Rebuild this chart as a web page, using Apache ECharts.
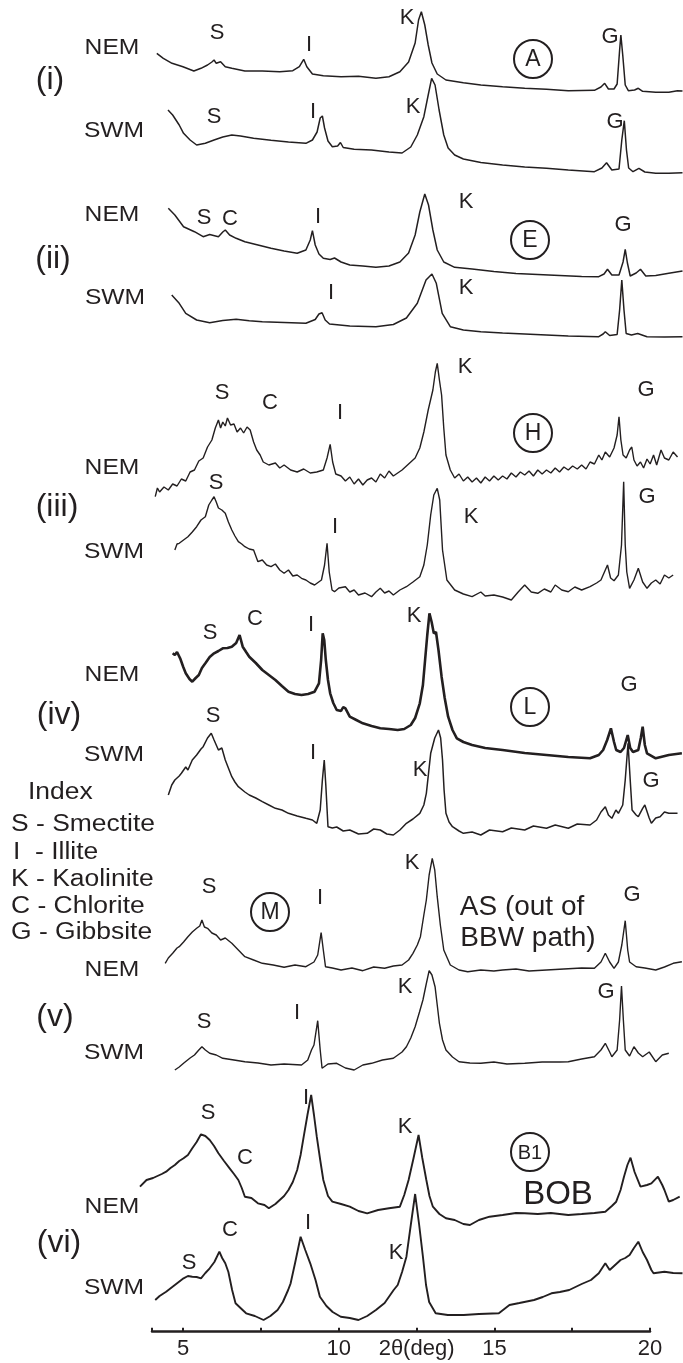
<!DOCTYPE html>
<html>
<head>
<meta charset="utf-8">
<script src="https://cdn.jsdelivr.net/npm/echarts@6/dist/echarts.min.js"></script>
<style>
html, body { margin: 0; padding: 0; background: #fff; }
#chart { width: 683px; height: 1363px; }
</style>
</head>
<body>
<div id="chart"></div>
<script>
// 2theta (deg) ticks and labels of the bottom axis
var axisTicks = [4, 5, 7.5, 10, 12.5, 15, 17.5, 20];
var axisLabels = [5, 10, 12.5, 15, 20];

// traces: [2theta, relative intensity]
var iNEM = [[4.15,46.7],[4.36,41.7],[4.64,36.7],[4.99,33.3],[5.34,29],[5.57,31.7],[5.78,35],[5.92,38],[5.99,40],[6.06,36.7],[6.2,38.3],[6.35,33.3],[6.56,31.7],[6.98,29],[7.54,29],[8.1,28.3],[8.52,29.3],[8.73,33.3],[8.87,40.7],[8.97,33.3],[9.15,26],[9.5,24.3],[10.07,23.3],[10.63,23.7],[11.19,21.7],[11.61,23.3],[11.96,28.3],[12.24,38],[12.45,57],[12.56,80],[12.65,88.3],[12.76,75],[12.87,55],[12.99,37],[13.16,26],[13.44,20],[14,17.3],[14.56,15],[15.26,13.3],[15.97,11.7],[16.67,10.7],[17.37,9.3],[18.21,9.7],[18.42,13],[18.54,16.7],[18.66,11],[18.84,11],[18.94,16],[19.02,50],[19.06,65],[19.12,45],[19.2,15],[19.3,9.3],[19.5,10],[19.62,11.7],[19.76,8.7],[20.18,7.7],[20.6,7.7],[20.88,9.3],[21.04,9]];
var iSWM = [[4.51,90],[4.66,85],[4.87,75],[5.01,66.7],[5.22,60],[5.43,55],[5.71,56.7],[5.99,60],[6.27,63],[6.56,65],[6.84,64],[7.26,61.7],[7.82,59.7],[8.38,58],[8.94,56.7],[9.15,60],[9.3,68],[9.4,82],[9.47,84],[9.54,72],[9.65,59],[9.79,53.3],[9.96,54],[10.05,57.5],[10.14,52.5],[10.49,50.7],[11.05,50],[11.61,48],[12.03,47],[12.31,53],[12.52,65],[12.73,83.3],[12.87,105],[12.98,121.7],[13.09,115],[13.22,90],[13.37,65],[13.51,52],[13.72,45],[14,41],[14.56,37.5],[15.26,35],[15.97,33],[16.67,31.7],[17.37,30],[18.21,28.3],[18.45,32],[18.6,37.3],[18.77,30],[19,31],[19.09,60],[19.17,79.3],[19.24,50],[19.31,32],[19.45,28.3],[19.64,31.7],[19.83,28],[20.18,26.7],[20.6,26.7],[21.04,27.3]];
var iiNEM = [[4.52,81.7],[4.73,75],[5.01,63.3],[5.36,58.3],[5.64,53.3],[5.85,55.5],[6.13,53.3],[6.27,58],[6.35,60],[6.49,55],[6.7,51.7],[6.98,48.3],[7.4,45],[7.82,41.7],[8.24,39],[8.66,36.7],[8.94,40],[9.08,50],[9.15,59.3],[9.24,45],[9.36,36],[9.5,31.7],[9.72,30.5],[9.86,32],[10.07,28],[10.35,25],[10.77,24],[11.19,22.7],[11.61,24],[11.96,28],[12.24,37],[12.45,55],[12.6,78],[12.76,96],[12.88,85],[13.02,60],[13.16,40],[13.37,28],[13.72,22.7],[14.28,21],[14.98,18.5],[15.69,16.5],[16.39,15.5],[17.09,14.5],[17.8,13.5],[18.35,13.3],[18.52,16],[18.63,20.7],[18.77,15],[19,15],[19.13,28],[19.2,40.7],[19.27,27],[19.36,14],[19.55,17],[19.69,20.7],[19.86,14],[20.18,14.5],[20.6,16.7],[21.04,19]];
var iiSWM = [[4.63,55],[4.87,46.7],[5.08,36.7],[5.43,30],[5.85,27.3],[6.27,29.5],[6.7,30.7],[7.12,29.3],[7.54,28.3],[8.24,27.5],[8.94,26.7],[9.24,30.5],[9.36,36],[9.46,37.3],[9.56,30],[9.7,26],[10.35,24],[11.19,23.3],[11.75,25.5],[12.17,32],[12.52,46.7],[12.8,70],[12.99,76],[13.13,66.7],[13.32,36.7],[13.58,23.3],[14,20],[14.56,18.3],[15.26,17],[15.97,16],[16.67,15],[17.37,14],[18.35,13.3],[18.49,16],[18.56,18.3],[18.7,14.5],[18.94,15.5],[19.02,40],[19.09,70],[19.16,40],[19.23,16.5],[19.4,15],[19.6,16.5],[19.9,13.3],[20.46,13],[21.04,13.3]];
var iiiNEM = [[4.1,3.3],[4.17,12],[4.24,8],[4.38,13],[4.52,10],[4.66,16],[4.8,14],[4.94,21],[5.08,19],[5.22,28],[5.36,30],[5.5,39],[5.64,42],[5.78,53],[5.92,60],[6.03,72],[6.13,80],[6.2,72],[6.27,78],[6.35,74],[6.42,82],[6.52,75],[6.63,76],[6.73,68],[6.84,72],[6.94,67],[7.05,73],[7.15,70],[7.26,58],[7.36,50],[7.47,45],[7.57,38],[7.75,35],[7.96,37],[8.1,32],[8.24,35],[8.45,30],[8.66,28],[8.87,31],[9.08,27],[9.29,28],[9.5,30],[9.62,42],[9.72,55.7],[9.8,38],[9.9,26],[10.07,24],[10.21,19],[10.35,23],[10.49,16],[10.63,21],[10.77,15],[10.91,20],[11.05,22],[11.19,18],[11.33,26],[11.47,22],[11.61,29],[11.75,24],[11.89,27],[12.03,30],[12.17,34],[12.31,38],[12.45,42],[12.6,52],[12.73,68],[12.87,90],[13.02,110],[13.1,128],[13.16,136.7],[13.23,120],[13.3,105],[13.37,72],[13.44,45],[13.58,30],[13.72,22],[13.86,26],[14,19],[14.14,23],[14.28,18],[14.42,22],[14.56,17],[14.7,23],[14.84,19],[14.98,24],[15.12,20],[15.26,24],[15.4,21],[15.54,27],[15.69,23],[15.83,28],[15.97,25],[16.11,29],[16.25,24],[16.39,30],[16.53,26],[16.67,30],[16.81,27],[16.95,32],[17.09,28],[17.23,33],[17.37,30],[17.51,34],[17.66,31],[17.8,35],[17.94,31],[18.07,38],[18.21,36],[18.35,45],[18.45,40],[18.56,48],[18.7,43],[18.84,52],[18.94,65],[19,83.3],[19.06,60],[19.13,45],[19.23,42],[19.34,50],[19.41,53],[19.48,40],[19.58,34],[19.69,38],[19.79,32],[19.9,41],[20,36],[20.11,45],[20.21,35],[20.35,50],[20.46,42],[20.6,40],[20.74,48],[20.88,43]];
var iiiSWM = [[4.73,60],[4.8,66],[4.87,66.7],[5.01,70],[5.15,73.3],[5.29,78],[5.43,83.3],[5.57,90],[5.71,93.3],[5.82,105],[5.92,110],[5.99,113.3],[6.06,108],[6.13,102],[6.24,100],[6.35,96.7],[6.45,88],[6.56,80],[6.66,74],[6.77,68.3],[6.88,66],[6.98,63.3],[7.12,61],[7.26,60],[7.4,48.3],[7.54,50],[7.68,45],[7.82,43.3],[7.96,46],[8.1,40],[8.24,36.7],[8.38,40],[8.52,34],[8.66,35],[8.8,31.7],[8.94,30],[9.08,27],[9.22,25],[9.44,30],[9.54,45],[9.62,66.7],[9.69,38],[9.78,20],[9.86,18.3],[10,22],[10.21,23.3],[10.35,18],[10.49,20],[10.63,15],[10.84,17],[11.05,13.3],[11.19,18],[11.33,21.7],[11.47,17],[11.61,19],[11.75,15],[11.96,20],[12.17,23.3],[12.38,28],[12.6,33.3],[12.73,45],[12.84,65],[12.95,95],[13.05,115],[13.16,121.7],[13.24,110],[13.33,60],[13.47,30],[13.72,20],[14,16],[14.28,13.3],[14.56,18],[14.7,14],[14.98,15],[15.26,13],[15.54,10],[15.76,18],[15.97,25],[16.18,18],[16.39,16.7],[16.6,21],[16.81,18],[16.95,25],[17.16,20],[17.37,18.3],[17.58,23],[17.8,20],[18.07,23.3],[18.28,27],[18.42,30],[18.56,40],[18.63,45],[18.73,32],[18.84,29.3],[18.98,35],[19.08,65],[19.15,128.3],[19.2,65],[19.25,38],[19.34,21.7],[19.48,30],[19.62,41.7],[19.76,28],[19.9,21.7],[20.04,27],[20.18,30],[20.32,26],[20.46,35],[20.6,32],[20.74,35]];
var ivNEM = [[4.66,106.7],[4.73,105],[4.8,108],[4.9,101.7],[5,93],[5.08,86.7],[5.2,81],[5.29,78.3],[5.4,82],[5.5,85],[5.6,92],[5.71,96.7],[5.85,103],[5.99,106.7],[6.13,109],[6.27,111.7],[6.42,112],[6.56,113.3],[6.7,117],[6.81,125],[6.91,113.3],[7.02,108],[7.12,103.3],[7.33,97],[7.54,90],[7.75,85],[7.96,80],[8.17,74],[8.38,68.3],[8.59,66],[8.8,65],[9.01,66],[9.22,68.3],[9.36,76.7],[9.43,100],[9.48,126.7],[9.53,120],[9.58,100],[9.65,80],[9.72,66.7],[9.82,57],[9.93,50],[10.07,49],[10.14,53],[10.21,51.7],[10.35,43.3],[10.56,40],[10.77,36.7],[11.05,34],[11.33,31.7],[11.61,31],[11.89,30],[12.1,31],[12.31,35],[12.45,42],[12.6,56.7],[12.7,75],[12.77,100],[12.84,125],[12.91,146.7],[12.98,138],[13.05,126.7],[13.12,128],[13.2,110],[13.3,83.3],[13.4,62],[13.51,43.3],[13.65,30],[13.79,21.7],[14,18],[14.28,15],[14.7,12],[15.26,10],[15.97,7],[16.67,5],[17.37,3],[18.07,1.7],[18.35,5],[18.49,10],[18.62,20],[18.74,31.7],[18.84,18],[18.91,10],[19.05,8],[19.16,12],[19.28,25],[19.36,12],[19.45,8],[19.62,10],[19.7,22],[19.76,33.3],[19.83,15],[19.9,6.7],[20.18,1.7],[20.6,5],[21.02,6.7]];
var ivSWM = [[4.52,50],[4.63,60],[4.73,65],[4.87,69],[4.94,71.7],[5.08,78],[5.15,75],[5.29,85],[5.43,90],[5.57,96],[5.64,98.3],[5.78,107],[5.9,111.7],[5.99,105],[6.06,100],[6.13,95],[6.24,97],[6.35,85],[6.45,77],[6.56,68.3],[6.66,63],[6.77,58.3],[6.98,53],[7.12,50],[7.33,47],[7.54,43.3],[7.75,40],[7.96,36.7],[8.17,35],[8.38,31.7],[8.66,29],[8.94,26.7],[9.15,25],[9.29,21.7],[9.4,35],[9.47,65],[9.53,85],[9.58,60],[9.65,18.3],[9.79,17],[9.93,18],[10.14,14],[10.35,15],[10.63,11],[10.91,11.7],[11.12,16],[11.33,15],[11.54,11],[11.75,10],[11.96,15],[12.17,21.7],[12.38,26],[12.6,31.7],[12.73,40],[12.81,51.7],[12.95,91.7],[13.08,107],[13.2,115],[13.27,107],[13.33,85],[13.38,55],[13.44,31.7],[13.54,23],[13.65,18.3],[13.86,14],[14,11.7],[14.28,13],[14.56,10],[14.84,15],[15.26,13.3],[15.54,17],[15.97,15],[16.25,19],[16.67,16.7],[16.95,20],[17.37,16.7],[17.66,21],[18.07,20],[18.28,25],[18.42,33],[18.56,38.3],[18.66,30],[18.77,26.7],[18.9,35],[18.98,31.7],[19.12,40],[19.2,65],[19.29,101.7],[19.36,65],[19.42,35],[19.55,30],[19.62,28.3],[19.76,36.7],[19.83,40],[19.97,27],[20.04,21.7],[20.18,27],[20.32,28.3],[20.46,33],[20.6,31.7],[20.88,31.7]];
var vNEM = [[4.42,16.7],[4.52,22],[4.66,26.7],[4.8,32],[4.87,33.3],[5.01,38],[5.15,43.3],[5.29,48],[5.43,51.7],[5.53,54],[5.6,60],[5.68,53],[5.78,51.7],[5.92,47],[6.06,45],[6.2,40],[6.35,42],[6.56,36.7],[6.77,30],[6.98,23.3],[7.26,20],[7.54,16.7],[7.89,15],[8.24,12.7],[8.59,15],[8.94,13.3],[9.2,18],[9.32,25],[9.43,47.3],[9.5,30],[9.57,13.3],[9.79,12],[10.07,10],[10.42,12],[10.77,9.3],[11.12,13],[11.47,11.7],[11.75,14],[12.03,15],[12.24,20],[12.38,26.7],[12.52,35],[12.62,43.3],[12.73,65],[12.81,80],[12.9,105],[13,121.7],[13.08,110],[13.16,83.3],[13.26,55],[13.37,30],[13.58,15],[13.86,10],[14.14,8.3],[14.56,10],[14.98,9],[15.26,10],[15.69,11],[16.11,9],[16.67,10],[17.23,11],[17.8,12],[18.21,11.7],[18.42,18],[18.56,26.7],[18.7,18],[18.84,11.7],[18.98,18],[19.09,35],[19.2,59.3],[19.28,30],[19.34,18],[19.55,13.3],[19.83,12],[20.18,10],[20.46,13],[20.74,16.7],[21.02,18.3]];
var vSWM = [[4.73,5],[4.87,8],[5.01,11.7],[5.22,17],[5.36,20],[5.5,25],[5.6,28.3],[5.71,25],[5.85,21.7],[6.06,20],[6.27,16.7],[6.63,15],[6.98,13.3],[7.4,12],[7.82,10],[8.24,11],[8.8,10],[9,15],[9.12,25],[9.2,30],[9.32,54.3],[9.4,25],[9.46,6.7],[9.65,11],[9.93,11.7],[10.21,7],[10.49,5],[10.77,10],[11.05,11.7],[11.4,15],[11.75,16.7],[12.03,23],[12.17,28.3],[12.31,37],[12.45,48.3],[12.59,63],[12.7,75],[12.8,90],[12.9,104.3],[12.99,100],[13.09,88.3],[13.16,70],[13.23,51.7],[13.33,35],[13.44,25],[13.65,18],[13.86,13.3],[14.21,12],[14.56,11.7],[14.98,13],[15.4,11],[15.97,11.7],[16.53,13],[17.09,13],[17.37,13.3],[17.8,16],[18.21,18.3],[18.42,25],[18.56,31.7],[18.7,23],[18.77,18.3],[18.94,25],[19.02,55],[19.08,89],[19.14,55],[19.2,25],[19.34,19],[19.48,28.3],[19.62,22],[19.76,18.3],[19.97,23],[20.18,13.3],[20.39,20],[20.6,21.7]];
var viNEM = [[3.61,43.3],[3.82,50],[4.03,52],[4.17,54],[4.31,56],[4.45,58.3],[4.59,62],[4.73,65],[4.87,69],[5.01,71.7],[5.15,75],[5.29,81.7],[5.43,88],[5.57,95.7],[5.71,94],[5.85,90],[5.99,84],[6.13,76.7],[6.31,69],[6.49,61.7],[6.63,56],[6.77,50],[6.88,42],[6.98,33.3],[7.19,32],[7.4,26.7],[7.61,25],[7.75,21.7],[7.96,26],[8.1,30],[8.24,34],[8.38,40],[8.52,48],[8.66,60],[8.77,75],[8.87,93.3],[8.99,115],[9.11,135],[9.2,115],[9.29,93.3],[9.4,70],[9.5,50],[9.65,34],[9.79,28.3],[10.07,26],[10.35,23.3],[10.63,19],[10.91,16.7],[11.26,20],[11.61,21.7],[11.96,23.3],[12.1,35],[12.24,50],[12.4,72],[12.56,95],[12.68,72],[12.81,50],[12.91,34],[13.02,23.3],[13.23,16],[13.44,11.7],[13.72,10],[14,6],[14.21,5],[14.5,10],[14.84,13.3],[15.26,15],[15.69,17],[15.97,16.7],[16.39,16],[16.81,17],[17.37,15],[17.8,16],[18.21,17],[18.56,18.3],[18.77,24],[18.91,28.3],[19.05,40],[19.16,53.3],[19.27,65],[19.37,72.3],[19.5,58],[19.69,43.3],[19.9,45],[20.04,46.7],[20.25,53.3],[20.39,45],[20.46,40],[20.6,28.3],[20.74,30],[20.95,33.3]];
var viSWM = [[4.1,25],[4.24,29],[4.45,33.3],[4.73,40],[5.01,46.7],[5.15,49],[5.29,48.3],[5.43,48],[5.57,46.7],[5.71,52],[5.85,56.7],[6,63],[6.16,73.3],[6.25,67],[6.35,61.7],[6.45,53],[6.57,35],[6.68,21.7],[6.84,17],[7.02,11.7],[7.3,9],[7.58,5],[7.8,9],[8.03,15],[8.2,23],[8.37,35],[8.45,41.7],[8.6,63],[8.77,88.3],[8.92,75],[9.08,61.7],[9.25,45],[9.39,28.3],[9.6,19],[9.8,13],[10.06,8.3],[10.35,7],[10.63,5],[10.91,9],[11.19,15],[11.47,22],[11.76,35],[11.89,40],[12.03,53],[12.17,68.3],[12.31,100],[12.45,131],[12.58,100],[12.7,68.3],[12.8,40],[12.9,23],[13.11,11.7],[13.5,10],[14.01,10],[14.5,11],[15.14,11.7],[15.48,20],[15.8,22],[16.27,25],[16.55,28],[16.83,31.7],[17.1,33],[17.4,35],[17.8,41],[18.1,45],[18.35,51.7],[18.56,61.7],[18.7,55],[18.84,59],[19.05,65],[19.2,67],[19.34,70],[19.48,77],[19.62,83.3],[19.76,73],[19.9,65],[20.04,55],[20.11,51.7],[20.46,53.3],[20.74,52],[21.04,51.7]];

var traceData = [iNEM, iSWM, iiNEM, iiSWM, iiiNEM, iiiSWM, ivNEM, ivSWM, vNEM, vSWM, viNEM, viSWM];

// layout: baseline pixel of each trace and its stroke width
var baselines = [100, 200, 290, 350, 500, 610, 760, 845, 980, 1075, 1230, 1325];
var strokes = [1.5, 1.5, 1.5, 1.5, 1.4, 1.4, 2.6, 1.5, 1.4, 1.4, 1.9, 1.9];

var ink = '#231f20';
var font = '"Liberation Sans", Arial, sans-serif';

// annotations: text, x, y, size, horizontal stretch
var notes = [
  ['NEM', 112, 48, 22, 1.12], ['SWM', 114, 131, 22, 1.12], ['(i)', 50, 80, 32, 1],
  ['S', 217, 33, 22, 1], ['I', 309, 45, 22, 1], ['K', 407, 18, 22, 1], ['G', 610, 37, 22, 1],
  ['S', 214, 117, 22, 1], ['I', 313, 112, 22, 1], ['K', 413, 107, 22, 1], ['G', 615, 122, 22, 1],
  ['NEM', 112, 215, 22, 1.12], ['SWM', 115, 298, 22, 1.12], ['(ii)', 53, 259, 32, 1],
  ['S', 204, 218, 22, 1], ['C', 230, 219, 22, 1], ['I', 318, 217, 22, 1], ['K', 466, 202, 22, 1], ['G', 623, 225, 22, 1],
  ['I', 331, 293, 22, 1], ['K', 466, 288, 22, 1],
  ['NEM', 112, 468, 22, 1.12], ['SWM', 114, 552, 22, 1.12], ['(iii)', 57, 507, 32, 1],
  ['S', 222, 393, 22, 1], ['C', 270, 403, 22, 1], ['I', 340, 413, 22, 1], ['K', 465, 367, 22, 1], ['G', 646, 390, 22, 1],
  ['S', 216, 483, 22, 1], ['I', 335, 527, 22, 1], ['K', 471, 517, 22, 1], ['G', 647, 497, 22, 1],
  ['NEM', 112, 675, 22, 1.12], ['SWM', 114, 755, 22, 1.12], ['(iv)', 59, 715, 32, 1],
  ['S', 210, 633, 22, 1], ['C', 255, 619, 22, 1], ['I', 311, 625, 22, 1], ['K', 414, 616, 22, 1], ['G', 629, 685, 22, 1],
  ['S', 213, 716, 22, 1], ['I', 313, 753, 22, 1], ['K', 420, 770, 22, 1], ['G', 651, 781, 22, 1],
  ['NEM', 112, 970, 22, 1.12], ['SWM', 114, 1053, 22, 1.12], ['(v)', 55, 1017, 32, 1],
  ['S', 209, 887, 22, 1], ['I', 320, 898, 22, 1], ['K', 412, 863, 22, 1], ['G', 632, 895, 22, 1],
  ['S', 204, 1022, 22, 1], ['I', 297, 1013, 22, 1], ['K', 405, 987, 22, 1], ['G', 606, 992, 22, 1],
  ['NEM', 112, 1207, 22, 1.12], ['SWM', 114, 1288, 22, 1.12], ['(vi)', 59, 1243, 32, 1],
  ['S', 208, 1113, 22, 1], ['C', 245, 1158, 22, 1], ['I', 306, 1098, 22, 1], ['K', 405, 1127, 22, 1],
  ['S', 189, 1263, 22, 1], ['C', 230, 1230, 22, 1], ['I', 308, 1223, 22, 1], ['K', 396, 1253, 22, 1],
  ['AS (out of', 522, 907, 28, 1], ['BBW path)', 528, 938, 28, 1], ['BOB', 558, 1195, 33, 1]
];
var legendLines = ['Index', 'S - Smectite', 'I  - Illite', 'K - Kaolinite', 'C - Chlorite', 'G - Gibbsite'];
var legendX = [28, 11, 13, 11, 11, 11];
var legendY = [793, 825, 853, 880, 907, 933];
var circles = [['A', 533, 59], ['E', 530, 240], ['H', 533, 433], ['L', 530, 707], ['M', 270, 912], ['B1', 530, 1152]];

var grids = [], xAxes = [], yAxes = [], series = [];
traceData.forEach(function (d, i) {
  var h = Math.min(160, baselines[i]);
  grids.push({ left: 121, width: 562, top: baselines[i] - h, height: h });
  xAxes.push({ type: 'value', gridIndex: i, min: 3, max: 21.056, show: false });
  yAxes.push({ type: 'value', gridIndex: i, min: 0, max: h, show: false });
  series.push({
    type: 'line', xAxisIndex: i, yAxisIndex: i, data: d,
    showSymbol: false, silent: true, clip: false,
    lineStyle: { color: ink, width: strokes[i] }
  });
});

// bottom 2theta axis
var ax = traceData.length;
grids.push({ left: 152, width: 498, top: 1300, height: 31.7 });
xAxes.push({
  type: 'value', gridIndex: ax, min: 4, max: 20,
  axisLine: { lineStyle: { color: ink, width: 2.5 } },
  axisTick: { customValues: axisTicks, inside: true, length: 4, lineStyle: { color: ink, width: 2 } },
  axisLabel: {
    customValues: axisLabels, color: ink, fontSize: 22, fontFamily: font, margin: 6,
    formatter: function (v) { return v === 12.5 ? '2θ(deg)' : String(v); }
  },
  splitLine: { show: false }
});
yAxes.push({ type: 'value', gridIndex: ax, show: false });

var graphic = [];
notes.forEach(function (n) {
  graphic.push({
    type: 'text', x: n[1], y: n[2], scaleX: n[4], silent: true,
    style: { text: n[0], fill: ink, font: n[3] + 'px ' + font, textAlign: 'center', textVerticalAlign: 'middle' }
  });
});
legendLines.forEach(function (t, i) {
  graphic.push({
    type: 'text', x: legendX[i], y: legendY[i], scaleX: 1.15, silent: true,
    style: { text: t, fill: ink, font: '23px ' + font, textAlign: 'left', textVerticalAlign: 'middle' }
  });
});
circles.forEach(function (c) {
  graphic.push({
    type: 'circle', shape: { cx: c[1], cy: c[2], r: 19 }, silent: true,
    style: { fill: 'none', stroke: ink, lineWidth: 2 }
  });
  graphic.push({
    type: 'text', x: c[1], y: c[2] + 1, silent: true,
    style: { text: c[0], fill: ink, font: (c[0].length > 1 ? 20 : 23) + 'px ' + font, textAlign: 'center', textVerticalAlign: 'middle' }
  });
});

var chart = echarts.init(document.getElementById('chart'));
chart.setOption({
  animation: false,
  backgroundColor: '#fff',
  grid: grids,
  xAxis: xAxes,
  yAxis: yAxes,
  series: series,
  graphic: graphic
});
</script>
</body>
</html>
